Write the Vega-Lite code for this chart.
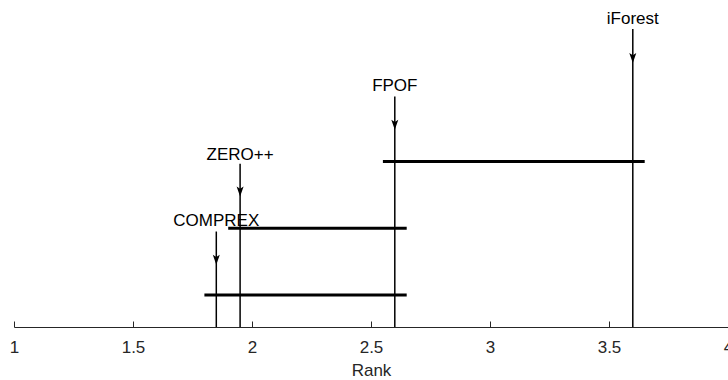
{
  "$schema": "https://vega.github.io/schema/vega-lite/v6.json",
  "width": 714,
  "height": 327,
  "autosize": {"type": "none"},
  "padding": {"left": 14, "top": 0, "right": 0, "bottom": 53},
  "background": "white",
  "config": {
    "view": {"stroke": null},
    "font": "Liberation Sans",
    "axis": {
      "grid": false,
      "domainColor": "#262626",
      "domainWidth": 1,
      "tickColor": "#262626",
      "tickSize": -6,
      "labelColor": "#262626",
      "labelFontSize": 17,
      "labelFont": "Liberation Sans",
      "labelPadding": 18,
      "titleColor": "#262626",
      "titleFontSize": 17,
      "titleFont": "Liberation Sans",
      "titleFontWeight": "normal",
      "titlePadding": 7
    }
  },
  "datasets": {
    "methods": [
      {"method": "COMPREX", "rank": 1.85, "tip": 1.905, "top": 2.92, "labelY": 3.25},
      {"method": "ZERO++", "rank": 1.95, "tip": 3.99, "top": 4.99, "labelY": 5.27},
      {"method": "FPOF", "rank": 2.6, "tip": 6.03, "top": 7.05, "labelY": 7.37},
      {"method": "iForest", "rank": 3.6, "tip": 8.07, "top": 9.11, "labelY": 9.41}
    ],
    "cliques": [
      {"from": 1.8, "to": 2.65, "level": 0.98},
      {"from": 1.9, "to": 2.65, "level": 3.02},
      {"from": 2.55, "to": 3.65, "level": 5.06}
    ]
  },
  "layer": [
    {
      "data": {"name": "methods"},
      "mark": {"type": "rule", "color": "black", "strokeWidth": 1.5},
      "encoding": {
        "x": {
          "field": "rank", "type": "quantitative",
          "scale": {"domain": [1, 4], "nice": false, "zero": false},
          "axis": {
            "title": "Rank",
            "values": [1, 1.5, 2, 2.5, 3, 3.5, 4],
            "labelExpr": "'' + datum.value",
            "labelFlush": false,
            "labelOverlap": false
          }
        },
        "y": {
          "field": "top", "type": "quantitative",
          "scale": {"domain": [0, 10], "nice": false, "zero": true},
          "axis": null
        },
        "y2": {"datum": 0}
      }
    },
    {
      "data": {"name": "methods"},
      "mark": {
        "type": "point",
        "shape": "M0,1 L-0.7,-1 L0,-0.55 L0.7,-1 Z",
        "filled": true,
        "color": "black",
        "opacity": 1,
        "size": 100,
        "yOffset": -5,
        "strokeWidth": 0
      },
      "encoding": {
        "x": {"field": "rank", "type": "quantitative"},
        "y": {"field": "tip", "type": "quantitative"}
      }
    },
    {
      "data": {"name": "methods"},
      "mark": {
        "type": "text",
        "fontSize": 17,
        "font": "Liberation Sans",
        "color": "black",
        "align": "center",
        "baseline": "middle"
      },
      "encoding": {
        "x": {"field": "rank", "type": "quantitative"},
        "y": {"field": "labelY", "type": "quantitative"},
        "text": {"field": "method"}
      }
    },
    {
      "data": {"name": "cliques"},
      "mark": {"type": "rule", "color": "black", "strokeWidth": 3},
      "encoding": {
        "x": {"field": "from", "type": "quantitative"},
        "x2": {"field": "to"},
        "y": {"field": "level", "type": "quantitative"}
      }
    }
  ]
}
